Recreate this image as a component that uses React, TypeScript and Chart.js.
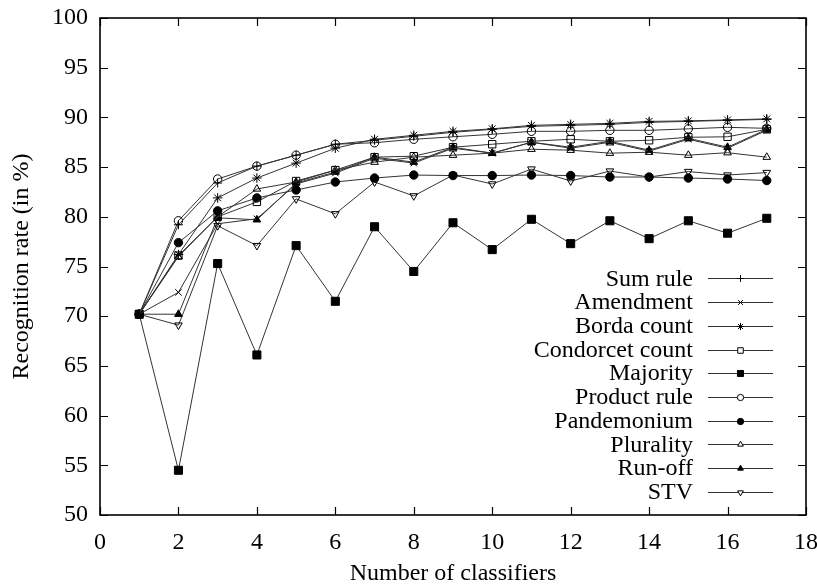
import React, { useEffect, useRef } from 'react';
import { Chart, registerables } from 'chart.js';
import { drawPoint } from 'chart.js/helpers';

Chart.register(...registerables);

// Number of classifiers combined
const classifiers = [1, 2, 3, 4, 5, 6, 7, 8, 9, 10, 11, 12, 13, 14, 15, 16, 17];

// Recognition rate (%) for each combination scheme
const sumRule = [70.2, 79.2, 83.4, 85.1, 86.2, 87.3, 87.7, 88.1, 88.5, 88.8, 89.1, 89.2, 89.3, 89.5, 89.6, 89.7, 89.8];
const amendment = [70.2, 72.4, 79.3, 79.8, 83.3, 84.4, 85.9, 85.4, 86.9, 86.4, 87.5, 86.9, 87.5, 86.6, 87.8, 86.9, 88.7];
const bordaCount = [70.2, 76.2, 81.9, 83.9, 85.4, 86.9, 87.8, 88.2, 88.6, 88.85, 89.2, 89.3, 89.4, 89.6, 89.65, 89.75, 89.85];
const condorcetCount = [70.2, 76.1, 80.0, 81.5, 83.6, 84.7, 86.0, 86.1, 87.0, 87.3, 87.6, 87.8, 87.6, 87.7, 88.0, 88.05, 88.8];
const majority = [70.2, 54.5, 75.3, 66.1, 77.1, 71.5, 79.0, 74.5, 79.4, 76.7, 79.75, 77.3, 79.6, 77.8, 79.6, 78.35, 79.85];
const productRule = [70.2, 79.6, 83.8, 85.1, 86.2, 87.3, 87.45, 87.8, 88.05, 88.3, 88.6, 88.6, 88.7, 88.7, 88.85, 89.0, 88.9];
const pandemonium = [70.2, 77.4, 80.6, 81.9, 82.7, 83.5, 83.9, 84.2, 84.15, 84.15, 84.2, 84.15, 84.0, 84.0, 83.9, 83.8, 83.65];
const plurality = [70.2, 76.0, 80.0, 82.8, 83.5, 84.7, 85.5, 86.0, 86.2, 86.4, 86.8, 86.7, 86.4, 86.5, 86.2, 86.45, 86.0];
const runOff = [70.2, 70.2, 79.9, 79.7, 83.4, 84.5, 86.0, 85.5, 87.0, 86.4, 87.5, 87.0, 87.6, 86.7, 87.9, 87.0, 88.8];
const stv = [70.2, 69.1, 79.1, 77.1, 81.8, 80.3, 83.5, 82.1, 84.2, 83.3, 84.8, 83.6, 84.6, 84.0, 84.55, 84.2, 84.45];

const seriesNames = [
  'Sum rule', 'Amendment', 'Borda count', 'Condorcet count', 'Majority',
  'Product rule', 'Pandemonium', 'Plurality', 'Run-off', 'STV',
];
const seriesValues = [
  sumRule, amendment, bordaCount, condorcetCount, majority,
  productRule, pandemonium, plurality, runOff, stv,
];

// Axis ranges and tick spacing
const xRange = [0, 18];
const xStep = 2;
const yRange = [50, 100];
const yStep = 5;

const xTitle = 'Number of classifiers';
const yTitle = 'Recognition rate (in %)';

const FONT_FAMILY = '"Liberation Serif", "DejaVu Serif", serif';
const FONT_SIZE = 24;
const LINE_COLOR = '#333333';

type Marker = { style: string; radius: number; filled: boolean; rotation?: number };

const markers: Marker[] = [
  { style: 'cross', radius: 4.5, filled: false },
  { style: 'crossRot', radius: 4.5, filled: false },
  { style: 'star', radius: 4.8, filled: false },
  { style: 'rect', radius: 5.2, filled: false },
  { style: 'rect', radius: 5.7, filled: true },
  { style: 'circle', radius: 4.2, filled: false },
  { style: 'circle', radius: 4.2, filled: true },
  { style: 'triangle', radius: 4.4, filled: false },
  { style: 'triangle', radius: 4.4, filled: true },
  { style: 'triangle', radius: 4.4, filled: false, rotation: 180 },
];

// Frame around the plot area with inward tick marks on all four sides
const framePlugin = {
  id: 'gnuFrame',
  afterDraw(chart: any) {
    const { ctx, chartArea } = chart;
    const { left, right, top, bottom } = chartArea;
    const xs = chart.scales.x;
    const ys = chart.scales.y;
    const tickLen = 8;
    ctx.save();
    ctx.strokeStyle = '#000';
    ctx.lineWidth = 1.2;
    ctx.beginPath();
    for (const t of xs.ticks) {
      const px = Math.round(xs.getPixelForValue(t.value)) + 0.5;
      ctx.moveTo(px, bottom);
      ctx.lineTo(px, bottom - tickLen);
      ctx.moveTo(px, top);
      ctx.lineTo(px, top + tickLen);
    }
    for (const t of ys.ticks) {
      const py = Math.round(ys.getPixelForValue(t.value)) + 0.5;
      ctx.moveTo(left, py);
      ctx.lineTo(left + tickLen, py);
      ctx.moveTo(right, py);
      ctx.lineTo(right - tickLen, py);
    }
    ctx.stroke();
    ctx.lineWidth = 1.6;
    ctx.strokeRect(left, top, right - left, bottom - top);
    ctx.restore();
  },
};

// Key in the lower right: right-aligned names, then a line sample with its marker
const keyPlugin = {
  id: 'gnuKey',
  afterDraw(chart: any) {
    const { ctx, chartArea } = chart;
    const rowH = 23.7;
    const lastRowY = chartArea.bottom - 23.3;
    const firstRowY = lastRowY - rowH * (seriesNames.length - 1);
    const textRight = chartArea.right - 113;
    const lineStart = chartArea.right - 98;
    const lineEnd = chartArea.right - 33;
    const markX = (lineStart + lineEnd) / 2;
    ctx.save();
    ctx.font = `${FONT_SIZE}px ${FONT_FAMILY}`;
    ctx.textAlign = 'right';
    ctx.textBaseline = 'middle';
    seriesNames.forEach((name, i) => {
      const y = firstRowY + i * rowH;
      ctx.fillStyle = '#000';
      ctx.fillText(name, textRight, y + 1);
      ctx.strokeStyle = LINE_COLOR;
      ctx.lineWidth = 1;
      ctx.beginPath();
      ctx.moveTo(lineStart, Math.round(y) + 0.5);
      ctx.lineTo(lineEnd, Math.round(y) + 0.5);
      ctx.stroke();
      const m = markers[i];
      ctx.strokeStyle = '#000';
      ctx.fillStyle = m.filled ? '#000' : '#fff';
      ctx.lineWidth = 1;
      drawPoint(ctx, {
        pointStyle: m.style as any,
        radius: m.radius * 0.75,
        rotation: m.rotation || 0,
        borderWidth: 1,
      }, markX, Math.round(y) + 0.5);
    });
    ctx.restore();
  },
};

export default function App() {
  const canvasRef = useRef<HTMLCanvasElement | null>(null);

  useEffect(() => {
    const canvas = canvasRef.current;
    if (!canvas) return;
    const font = { family: FONT_FAMILY, size: FONT_SIZE };

    const datasets = seriesNames.map((name, i) => {
      const m = markers[i];
      return {
        label: name,
        data: classifiers.map((c, j) => ({ x: c, y: seriesValues[i][j] })),
        borderColor: LINE_COLOR,
        borderWidth: 1,
        pointStyle: m.style,
        pointRadius: m.radius,
        pointRotation: m.rotation || 0,
        pointBorderColor: '#000',
        pointBorderWidth: 1,
        pointBackgroundColor: m.filled ? '#000' : 'rgba(0,0,0,0)',
        tension: 0,
        fill: false,
        clip: false,
      };
    });

    const chart = new Chart(canvas, {
      type: 'line',
      data: { datasets } as any,
      options: {
        animation: false,
        responsive: false,
        maintainAspectRatio: false,
        events: [],
        layout: { padding: { top: 18, right: 0, left: 0, bottom: 0 } },
        plugins: {
          legend: { display: false },
          tooltip: { enabled: false },
        },
        scales: {
          x: {
            type: 'linear',
            min: xRange[0],
            max: xRange[1],
            ticks: { stepSize: xStep, font, color: '#000', padding: 13, maxRotation: 0 },
            grid: { display: false, drawTicks: false, tickLength: 0 },
            border: { display: false },
            title: { display: true, text: xTitle, font, color: '#000', padding: { top: 0, bottom: -2 } },
            afterFit: (s: any) => {
              s.height = 71;
              s.paddingLeft = 0;
              s.paddingRight = 11;
            },
          },
          y: {
            type: 'linear',
            min: yRange[0],
            max: yRange[1],
            ticks: { stepSize: yStep, font, color: '#000', padding: 12 },
            grid: { display: false, drawTicks: false, tickLength: 0 },
            border: { display: false },
            title: { display: true, text: yTitle, font, color: '#000', padding: { top: 7, bottom: 0 } },
            afterFit: (s: any) => {
              s.width = 100;
              s.paddingTop = 0;
              s.paddingBottom = 0;
            },
          },
        },
      } as any,
      plugins: [framePlugin, keyPlugin],
    });

    return () => chart.destroy();
  }, []);

  return (
    <div style={{ position: 'fixed', left: 0, top: 0, width: 817, height: 586, background: '#fff' }}>
      <canvas ref={canvasRef} width={817} height={586} style={{ display: 'block', width: 817, height: 586 }} />
    </div>
  );
}
